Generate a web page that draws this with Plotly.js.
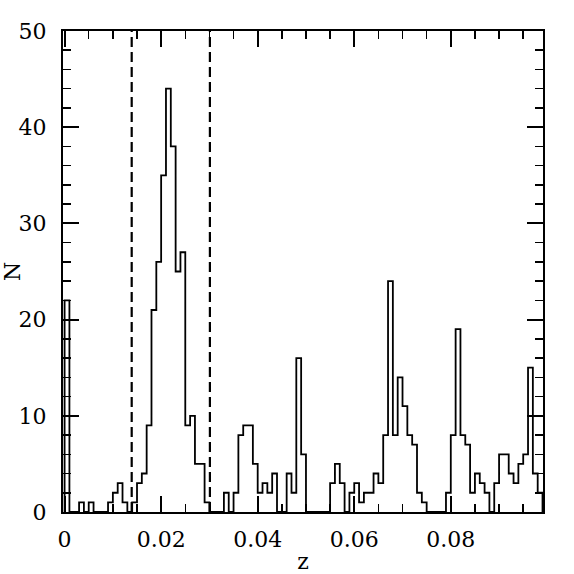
<!DOCTYPE html>
<html>
<head>
<meta charset="utf-8">
<script src="https://cdn.plot.ly/plotly-3.0.1.min.js"></script>
<style>
  html, body { margin: 0; padding: 0; background: #fff; }
  #plot { width: 574px; height: 574px; }
</style>
</head>
<body>
<div id="plot"></div>
<script>
// histogram of redshifts, bins of 0.001 starting at z = 0
const binStart = 0;
const binWidth = 0.001;
const counts = [
  22, 0, 0, 1, 0, 1, 0, 0, 0, 1,
  2, 3, 1, 0, 1, 3, 4, 9, 21, 26,
  35, 44, 38, 25, 27, 9, 10, 5, 5, 1,
  0, 0, 0, 2, 0, 2, 8, 9, 9, 5,
  2, 3, 2, 4, 0, 0, 4, 2, 16, 6,
  0, 0, 0, 0, 0, 3, 5, 3, 0, 2,
  3, 1, 2, 2, 4, 3, 8, 24, 8, 14,
  11, 8, 7, 2, 1, 0, 0, 0, 0, 2,
  8, 19, 8, 7, 2, 4, 3, 2, 0, 3,
  6, 6, 4, 3, 5, 6, 15, 4, 2
];
// dashed vertical limits
const cutLimits = [0.0139, 0.0301];
const xTickVals = [0, 0.02, 0.04, 0.06, 0.08];
const xTickText = ["0", "0.02", "0.04", "0.06", "0.08"];

// step outline: rise at first edge, one step per bin, drop at last edge
const edges = counts.map((c, i) => binStart + i * binWidth);
const lastEdge = binStart + counts.length * binWidth;
const xs = [binStart].concat(edges, [lastEdge, lastEdge]);
const ys = [0].concat(counts, [counts[counts.length - 1], 0]);

const font = { family: "DejaVu Serif", size: 22, color: "#000" };

const trace = {
  x: xs,
  y: ys,
  type: "scatter",
  mode: "lines",
  line: { shape: "hv", color: "#000", width: 1.8 },
  hoverinfo: "skip",
};

const axisCommon = {
  showline: true,
  linecolor: "#000",
  linewidth: 2,
  mirror: "allticks",
  ticks: "inside",
  ticklen: 16,
  tickwidth: 2,
  tickcolor: "#000",
  showgrid: false,
  zeroline: false,
  tickfont: font,
};

const layout = {
  width: 574,
  height: 574,
  margin: { l: 63, r: 31, t: 31, b: 62 },
  paper_bgcolor: "#fff",
  plot_bgcolor: "#fff",
  showlegend: false,
  xaxis: Object.assign({}, axisCommon, {
    range: [-0.00033, 0.0991],
    tickmode: "array",
    tickvals: xTickVals,
    ticktext: xTickText,
    ticklabelstandoff: 7,
    minor: { dtick: 0.005, tick0: 0, ticks: "inside", ticklen: 8, tickwidth: 1.5, tickcolor: "#000", showgrid: false },
    title: { text: "z", font: { family: "DejaVu Serif", size: 22, color: "#000" }, standoff: 5 },
  }),
  yaxis: Object.assign({}, axisCommon, {
    range: [0, 50],
    tickmode: "linear",
    tick0: 0,
    dtick: 10,
    ticklabelstandoff: 10,
    minor: { dtick: 2, tick0: 0, ticks: "inside", ticklen: 8, tickwidth: 1.5, tickcolor: "#000", showgrid: false },
    title: { text: "N", font: { family: "DejaVu Serif", size: 22, color: "#000" }, standoff: 4 },
  }),
  shapes: cutLimits.map((z) => ({
    type: "line",
    xref: "x",
    yref: "paper",
    x0: z,
    x1: z,
    y0: 0,
    y1: 1,
    line: { color: "#000", width: 2.2, dash: "10px,5px" },
  })),
};

Plotly.newPlot("plot", [trace], layout, { displayModeBar: false, staticPlot: true });
</script>
</body>
</html>
